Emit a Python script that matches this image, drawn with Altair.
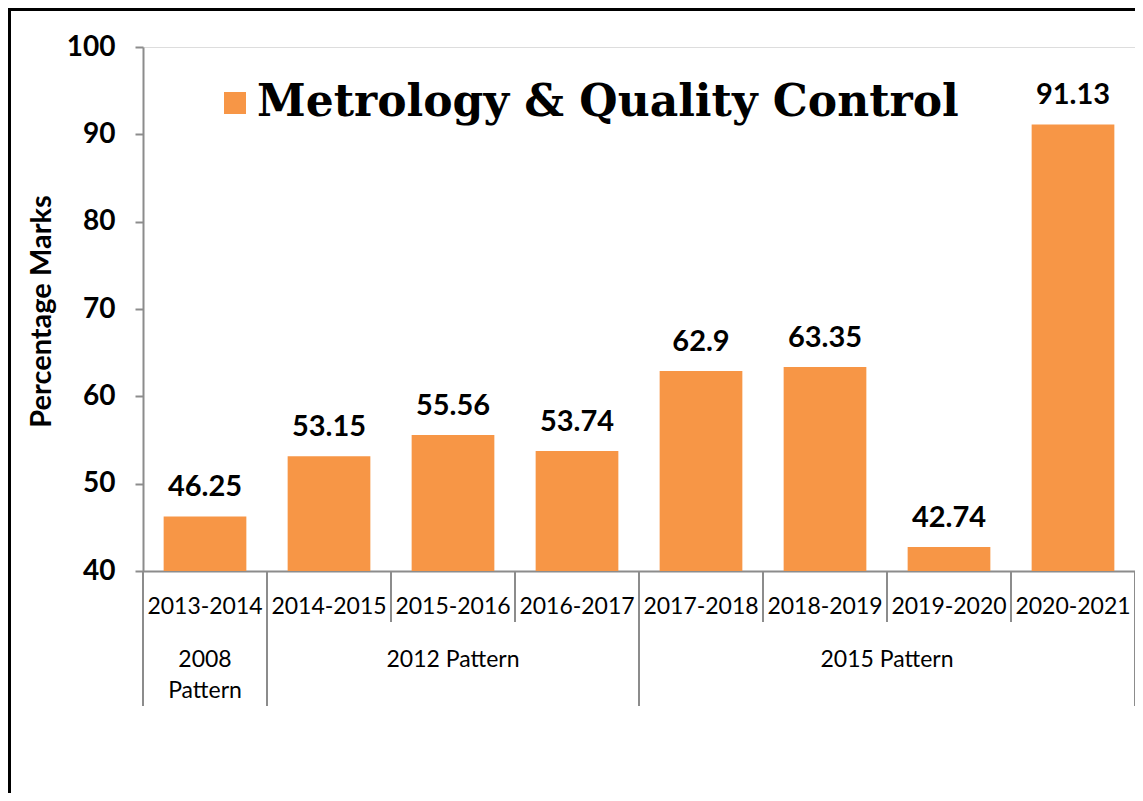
import altair as alt
import pandas as pd

# ---- data ----
years = ["2013-2014", "2014-2015", "2015-2016", "2016-2017",
         "2017-2018", "2018-2019", "2019-2020", "2020-2021"]
marks = [46.25, 53.15, 55.56, 53.74, 62.9, 63.35, 42.74, 91.13]
series_name = "Metrology & Quality Control"
y_ticks = [40, 50, 60, 70, 80, 90, 100]
baseline = 40

pattern_names = ["2008\nPattern", "2012 Pattern", "2015 Pattern"]
pattern_anchor = ["2013-2014", "2015-2016", "2019-2020"]
pattern_band = [0.5, 0.5, 0.0]
group_starts = ["2013-2014", "2014-2015", "2017-2018"]

BAR = "#F79646"
GREY = "#8c8c8c"
W, H = 992, 524

bars_df = pd.DataFrame({"year": years, "marks": marks, "series": series_name,
                        "base": baseline})
pat_df = pd.DataFrame({"name": pattern_names, "year": pattern_anchor, "band": pattern_band})
starts_df = pd.DataFrame({"year": years})
group_df = pd.DataFrame({"year": group_starts})
end_df = pd.DataFrame({"year": [years[-1]]})
one = pd.DataFrame({"k": [0]})

xscale = alt.Scale(domain=years, paddingInner=0, paddingOuter=0)
yscale = alt.Scale(domain=[y_ticks[0], y_ticks[-1]], zero=False, nice=False)

x_axis = alt.Axis(title=None, labelAngle=0, labelFont="Lato", labelFontSize=23,
                  labelColor="black", ticks=False, tickSize=0,
                  domainColor=GREY, domainWidth=2, labelPadding=42,
                  labelBaseline="alphabetic", labelLimit=0)
y_axis = alt.Axis(values=y_ticks, title="Percentage Marks", grid=False,
                  labelFont="Lato", labelFontSize=28, labelFontWeight="bold",
                  labelColor="black", labelPadding=20, tickSize=8,
                  tickColor=GREY, tickWidth=2, domainColor=GREY, domainWidth=2,
                  titleFont="Lato", titleFontSize=29, titleFontWeight="bold",
                  titleColor="black", titleAngle=270, titleX=-93, titleY=264,
                  titleAlign="center", titleBaseline="alphabetic")

bars = alt.Chart(bars_df).mark_bar(width={"band": 0.667}).encode(
    x=alt.X("year:N", sort=years, scale=xscale, axis=x_axis),
    y=alt.Y("marks:Q", scale=yscale, axis=y_axis),
    y2=alt.Y2("base:Q"),
    color=alt.Color("series:N",
                    scale=alt.Scale(domain=[series_name], range=[BAR]),
                    legend=alt.Legend(orient="none", legendX=70, legendY=34,
                                      title=None, symbolType="square",
                                      symbolSize=484, symbolStrokeWidth=0,
                                      symbolOpacity=1,
                                      labelFont="DejaVu Serif", labelFontSize=44,
                                      labelFontWeight="bold", labelColor="black",
                                      labelOffset=0, labelLimit=0, padding=0)),
)

values = alt.Chart(bars_df).mark_text(
    font="Lato", fontSize=29, fontWeight="bold", color="black",
    baseline="alphabetic", dy=-20
).encode(
    x=alt.X("year:N", sort=years, scale=xscale),
    y=alt.Y("marks:Q", scale=yscale),
    text=alt.Text("marks:N"),
)

short_div = alt.Chart(starts_df).mark_rule(color=GREY, strokeWidth=2).encode(
    x=alt.X("year:N", sort=years, scale=xscale, bandPosition=0),
    y=alt.value(H), y2=alt.value(H + 51),
)
long_div = alt.Chart(group_df).mark_rule(color=GREY, strokeWidth=2).encode(
    x=alt.X("year:N", sort=years, scale=xscale, bandPosition=0),
    y=alt.value(H), y2=alt.value(H + 135),
)
end_div = alt.Chart(end_df).mark_rule(color=GREY, strokeWidth=2).encode(
    x=alt.X("year:N", sort=years, scale=xscale, bandPosition=1),
    y=alt.value(H), y2=alt.value(H + 135),
)

pat_mid = alt.Chart(pat_df).transform_filter("datum.band == 0.5").mark_text(
    font="Lato", fontSize=23, color="black", baseline="alphabetic",
    lineBreak="\n", lineHeight=31
).encode(
    x=alt.X("year:N", sort=years, scale=xscale, bandPosition=0.5),
    y=alt.value(H + 96),
    text="name:N",
)
pat_edge = alt.Chart(pat_df).transform_filter("datum.band == 0").mark_text(
    font="Lato", fontSize=23, color="black", baseline="alphabetic",
    lineBreak="\n", lineHeight=31
).encode(
    x=alt.X("year:N", sort=years, scale=xscale, bandPosition=0),
    y=alt.value(H + 96),
    text="name:N",
)

frame_left = alt.Chart(one).mark_rule(color="black", strokeWidth=3).encode(
    x=alt.value(-133.5), y=alt.value(-39), y2=alt.value(H + 222))
frame_top = alt.Chart(one).mark_rule(color="black", strokeWidth=3).encode(
    x=alt.value(-135), x2=alt.value(W), y=alt.value(-37.5))

chart = alt.layer(
    frame_left, frame_top, bars, values, short_div, long_div, end_div,
    pat_mid, pat_edge
).properties(
    width=W, height=H,
    autosize=alt.AutoSizeParams(type="none"),
    padding={"left": 135, "top": 39, "right": 0, "bottom": 222},
).configure_view(stroke=None).configure(background="white")

chart.save("out.html", embed_options={"renderer": "svg", "actions": False})
